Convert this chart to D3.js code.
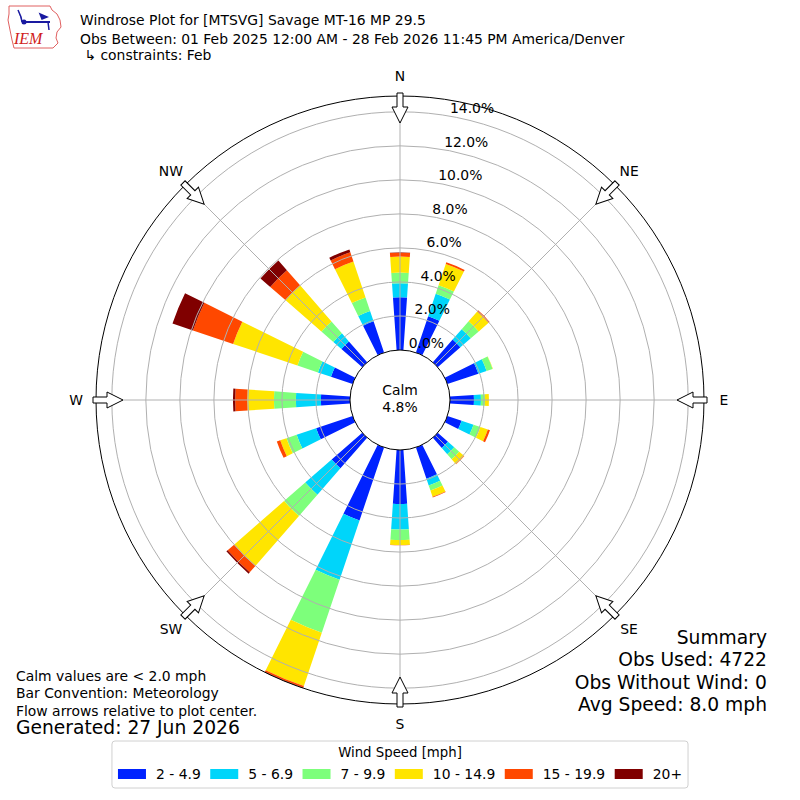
<!DOCTYPE html>
<html>
<head>
<meta charset="utf-8">
<script src="https://cdn.jsdelivr.net/npm/d3@7"></script>
<style>
  body { margin: 0; background: #fff; }
  text { font-family: "DejaVu Sans", sans-serif; }
</style>
</head>
<body>
<div id="chart"></div>
<script>
// direction sectors, clockwise from north
const directions = ["N", "NNE", "NE", "ENE", "E", "ESE", "SE", "SSE",
  "S", "SSW", "SW", "WSW", "W", "WNW", "NW", "NNW"];
const speedBins = ["2 - 4.9", "5 - 6.9", "7 - 9.9", "10 - 14.9", "15 - 19.9", "20+"];
const binColors = ["#0022ff", "#00d5fa", "#7dff7b", "#ffe500", "#ff4800", "#800000"];

// percent of obs per direction, one array per speed bin
const bin2to5 = [3.1, 2.26, 1.77, 1.92, 1.41, 0.88, 0.8, 1.94, 3.18, 4.53, 2.39, 2.26, 1.71, 1.34, 1.63, 1.94];
const bin5to7 = [0.82, 1.39, 0.81, 0.51, 0.41, 0.74, 0.49, 0.42, 1.49, 3.67, 2.06, 1.21, 1.47, 0.81, 0.63, 0.64];
const bin7to10 = [0.63, 0.53, 0.62, 0.37, 0.24, 0.43, 0.39, 0.32, 0.62, 3.29, 1.65, 0.63, 1.29, 1.27, 0.93, 0.84];
const bin10to15 = [0.94, 1.32, 0.77, 0.02, 0.23, 0.46, 0.37, 0.38, 0.3, 3.31, 3.9, 0.39, 1.57, 3.99, 2.81, 2.23];
const bin15to20 = [0.23, 0.1, 0.08, 0, 0, 0.13, 0.03, 0.04, 0.01, 0.1, 0.5, 0.21, 0.71, 2.49, 1.18, 0.57];
const bin20plus = [0.02, 0, 0, 0, 0, 0, 0, 0, 0, 0.03, 0.1, 0, 0.13, 1.27, 0.76, 0.18];
const binValues = [bin2to5, bin5to7, bin7to10, bin10to15, bin15to20, bin20plus];

const rTicks = [0, 2, 4, 6, 8, 10, 12, 14];
const compassLabels = ["N", "NE", "E", "SE", "S", "SW", "W", "NW"];
const calmPct = "4.8%";

const titleLines = [
  "Windrose Plot for [MTSVG] Savage MT-16 MP 29.5",
  "Obs Between: 01 Feb 2025 12:00 AM - 28 Feb 2026 11:45 PM America/Denver",
  " \u21b3 constraints: Feb"
];
const noteLines = ["Calm values are < 2.0 mph", "Bar Convention: Meteorology", "Flow arrows relative to plot center."];
const generated = "Generated: 27 Jun 2026";
const summaryLines = ["Summary", "Obs Used: 4722", "Obs Without Wind: 0", "Avg Speed: 8.0 mph"];

const width = 800, height = 800;
const cx = 400, cy = 400;
const calmR = 50, outerR = 304;
const barWidth = 0.137; // radians
const rad = Math.PI / 180;

const svg = d3.select("#chart").append("svg")
  .attr("width", width).attr("height", height);
svg.append("rect").attr("width", width).attr("height", height).attr("fill", "#fff");

// stack the bins per direction
const stacked = directions.map((d, i) => {
  let base = 0;
  return binValues.map((arr, b) => {
    const seg = { dir: i, bin: b, r0: base, r1: base + arr[i] };
    base += arr[i];
    return seg;
  });
});
const rMax = d3.max(stacked, s => s[s.length - 1].r1);

const rScale = d3.scaleLinear().domain([0, rMax]).range([calmR, outerR]);
const aScale = d3.scaleLinear().domain([0, directions.length]).range([0, 2 * Math.PI]);

const plot = svg.append("g").attr("transform", `translate(${cx},${cy})`);

const arc = d3.arc()
  .innerRadius(d => rScale(d.r0))
  .outerRadius(d => rScale(d.r1))
  .startAngle(d => aScale(d.dir) - barWidth / 2)
  .endAngle(d => aScale(d.dir) + barWidth / 2);

plot.selectAll(".bar")
  .data(stacked.flat().filter(d => d.r1 > d.r0))
  .enter().append("path")
  .attr("class", "bar")
  .attr("d", arc)
  .attr("fill", d => binColors[d.bin]);

// grid on top of bars, like the original
plot.selectAll(".ring")
  .data(rTicks.slice(1))
  .enter().append("circle")
  .attr("class", "ring")
  .attr("r", d => rScale(d))
  .attr("fill", "none")
  .attr("stroke", "#b0b0b0")
  .attr("stroke-width", 1);

plot.selectAll(".spoke")
  .data(compassLabels)
  .enter().append("line")
  .attr("class", "spoke")
  .attr("x1", (d, i) => calmR * Math.sin(i * 45 * rad))
  .attr("y1", (d, i) => -calmR * Math.cos(i * 45 * rad))
  .attr("x2", (d, i) => outerR * Math.sin(i * 45 * rad))
  .attr("y2", (d, i) => -outerR * Math.cos(i * 45 * rad))
  .attr("stroke", "#b0b0b0")
  .attr("stroke-width", 1);

plot.append("circle").attr("r", outerR)
  .attr("fill", "none").attr("stroke", "#000").attr("stroke-width", 1);
plot.append("circle").attr("r", calmR)
  .attr("fill", "#fff").attr("stroke", "#000").attr("stroke-width", 1);

plot.append("text").attr("y", -5).attr("text-anchor", "middle")
  .attr("font-size", 13.9).text("Calm");
plot.append("text").attr("y", 12).attr("text-anchor", "middle")
  .attr("font-size", 13.9).text(calmPct);

// radial tick labels
const labelAngle = 10 * rad;
plot.selectAll(".rlabel")
  .data(rTicks)
  .enter().append("text")
  .attr("class", "rlabel")
  .attr("x", d => rScale(d) * Math.sin(labelAngle))
  .attr("y", d => -rScale(d) * Math.cos(labelAngle) - 3)
  .attr("font-size", 13.9)
  .text(d => d.toFixed(1) + "%");

// compass labels
plot.selectAll(".clabel")
  .data(compassLabels)
  .enter().append("text")
  .attr("class", "clabel")
  .attr("x", (d, i) => 324 * Math.sin(i * 45 * rad))
  .attr("y", (d, i) => -324 * Math.cos(i * 45 * rad))
  .attr("text-anchor", "middle")
  .attr("dominant-baseline", "central")
  .attr("font-size", 13.9)
  .text(d => d);

// hollow flow arrows pointing at the center
const arrowPts = [[-3, -307], [3, -307], [3, -293], [8, -293], [0, -277], [-8, -293], [-3, -293]];
plot.selectAll(".arrow")
  .data(compassLabels)
  .enter().append("polygon")
  .attr("class", "arrow")
  .attr("points", arrowPts.map(p => p.join(",")).join(" "))
  .attr("transform", (d, i) => `rotate(${i * 45})`)
  .attr("fill", "#fff")
  .attr("stroke", "#000")
  .attr("stroke-width", 1);

// titles
const titleY = [25, 44, 60];
svg.selectAll(".title")
  .data(titleLines)
  .enter().append("text")
  .attr("class", "title")
  .attr("x", 80)
  .attr("y", (d, i) => titleY[i])
  .attr("font-size", 13.9)
  .attr("xml:space", "preserve")
  .style("white-space", "pre")
  .text(d => d);

// IEM logo (rough)
const logo = svg.append("g");
logo.append("path")
  .attr("d", "M9,6 L50,6 L52,10 L57,14 L60,20 L61,27 L57,32 L56,38 L58,43 L53,48 L14,48 L12,40 L10,30 L8,20 L9,14 Z")
  .attr("fill", "none").attr("stroke", "#e06060").attr("stroke-width", 1);
logo.append("line").attr("x1", 22).attr("y1", 22).attr("x2", 50).attr("y2", 22)
  .attr("stroke", "#1a1aa0").attr("stroke-width", 2);
logo.append("path").attr("d", "M18,10 L21,17 L22,22 M40,14 L47,17 L42,19 Z M48,22 L49,30")
  .attr("fill", "#1a1aa0").attr("stroke", "#1a1aa0").attr("stroke-width", 1.5);
logo.append("circle").attr("cx", 24).attr("cy", 22).attr("r", 2.5).attr("fill", "#1a1aa0");
logo.append("text").attr("x", 14).attr("y", 44)
  .style("font-family", "'Liberation Serif', serif")
  .attr("font-style", "italic").attr("font-size", 16).attr("fill", "#d02020").text("IEM");

// notes bottom left
svg.selectAll(".note")
  .data(noteLines)
  .enter().append("text")
  .attr("class", "note")
  .attr("x", 16)
  .attr("y", (d, i) => 681 + i * 17.3)
  .attr("font-size", 13.9)
  .text(d => d);
svg.append("text").attr("x", 16).attr("y", 734)
  .attr("font-size", 18.7).text(generated);

// summary bottom right
svg.selectAll(".summary")
  .data(summaryLines)
  .enter().append("text")
  .attr("class", "summary")
  .attr("x", 767)
  .attr("y", (d, i) => 643.5 + i * 22.6)
  .attr("text-anchor", "end")
  .attr("font-size", 18.7)
  .text(d => d);

// legend
const legend = svg.append("g");
const legBox = legend.append("rect")
  .attr("y", 741).attr("height", 47).attr("rx", 3)
  .attr("fill", "#fff").attr("stroke", "#d0d0d0").attr("stroke-width", 1);
legend.append("text").attr("x", 400).attr("y", 757)
  .attr("text-anchor", "middle").attr("font-size", 13.3).text("Wind Speed [mph]");

const items = legend.selectAll(".item")
  .data(speedBins)
  .enter().append("g").attr("class", "item");
items.append("rect").attr("width", 28).attr("height", 10).attr("y", 769)
  .attr("fill", (d, i) => binColors[i]);
items.append("text").attr("y", 779).attr("font-size", 13.9).text(d => d);

let xPos = 0;
const offsets = [];
items.each(function () {
  const w = d3.select(this).select("text").node().getComputedTextLength();
  offsets.push(xPos);
  xPos += 28 + 10 + w + 9.5;
});
const rowW = xPos - 9.5;
const x0 = 400 - rowW / 2;
items.each(function (d, i) {
  const g = d3.select(this);
  g.select("rect").attr("x", x0 + offsets[i]);
  g.select("text").attr("x", x0 + offsets[i] + 38);
});
legBox.attr("x", x0 - 6).attr("width", rowW + 12);
</script>
</body>
</html>
